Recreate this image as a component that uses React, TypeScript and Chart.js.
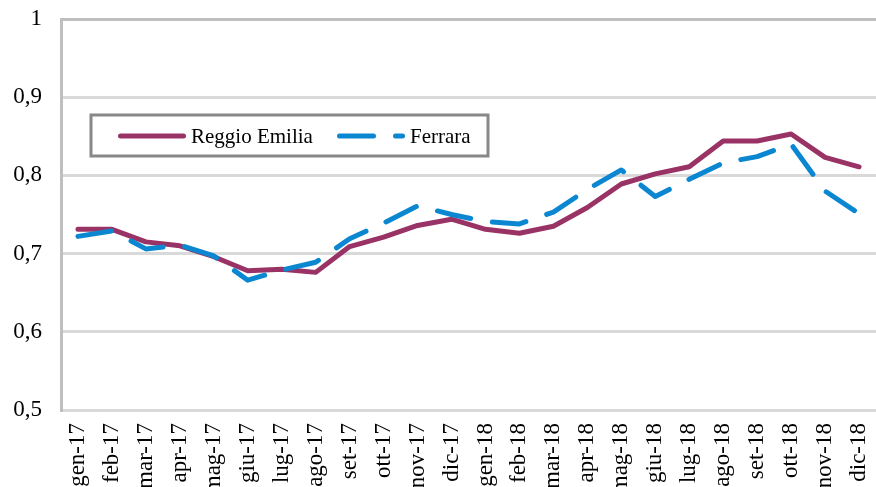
import React, { useEffect, useRef } from "react";
import { Chart, registerables } from "chart.js";

Chart.register(...registerables);

const categories = [
  "gen-17", "feb-17", "mar-17", "apr-17", "mag-17", "giu-17", "lug-17", "ago-17",
  "set-17", "ott-17", "nov-17", "dic-17", "gen-18", "feb-18", "mar-18", "apr-18",
  "mag-18", "giu-18", "lug-18", "ago-18", "set-18", "ott-18", "nov-18", "dic-18",
];

const reggioEmilia = [
  0.731, 0.731, 0.715, 0.710, 0.696, 0.678, 0.680, 0.676,
  0.709, 0.721, 0.736, 0.744, 0.731, 0.726, 0.735, 0.759,
  0.789, 0.802, 0.811, 0.844, 0.844, 0.853, 0.823, 0.811,
];

const ferrara = [
  0.722, 0.729, 0.706, 0.711, 0.697, 0.666, 0.679, 0.689,
  0.719, 0.739, 0.761, 0.750, 0.741, 0.738, 0.753, 0.782,
  0.807, 0.773, 0.795, 0.816, 0.824, 0.840, 0.780, 0.751,
];

const yTickValues = [0.5, 0.6, 0.7, 0.8, 0.9, 1];
const yTickLabels = ["0,5", "0,6", "0,7", "0,8", "0,9", "1"];

const seriesNames = ["Reggio Emilia", "Ferrara"];
const PURPLE = "#993366";
const BLUE = "#0A87D0";
const DASH = [34, 22];
const FONT = '"Liberation Serif", "Times New Roman", serif';

const legendPlugin = {
  id: "insetLegend",
  afterDraw(chart: any) {
    const ctx = chart.ctx;
    ctx.save();
    ctx.fillStyle = "#ffffff";
    ctx.strokeStyle = "#888888";
    ctx.lineWidth = 3;
    ctx.fillRect(91, 115, 397, 41);
    ctx.strokeRect(91, 115, 397, 41);
    const cy = 136;
    ctx.lineCap = "round";
    ctx.lineWidth = 5;
    ctx.strokeStyle = PURPLE;
    ctx.setLineDash([]);
    ctx.beginPath();
    ctx.moveTo(120.5, cy);
    ctx.lineTo(183.5, cy);
    ctx.stroke();
    ctx.strokeStyle = BLUE;
    ctx.setLineDash(DASH);
    ctx.beginPath();
    ctx.moveTo(339.5, cy);
    ctx.lineTo(402.5, cy);
    ctx.stroke();
    ctx.setLineDash([]);
    ctx.fillStyle = "#000000";
    ctx.font = `21px ${FONT}`;
    ctx.textBaseline = "middle";
    ctx.textAlign = "left";
    ctx.fillText(seriesNames[0], 191, cy + 1);
    ctx.fillText(seriesNames[1], 410, cy + 1);
    ctx.restore();
  },
};

function zeroPadding(scale: any) {
  scale.paddingTop = 0;
  scale.paddingBottom = 0;
  scale.paddingLeft = 0;
  scale.paddingRight = 0;
}

export default function App() {
  const ref = useRef<HTMLCanvasElement | null>(null);

  useEffect(() => {
    if (!ref.current) return;
    const chart = new Chart(ref.current, {
      type: "line",
      data: {
        labels: categories,
        datasets: [
          {
            label: seriesNames[0],
            data: reggioEmilia,
            borderColor: PURPLE,
            backgroundColor: PURPLE,
            borderWidth: 5,
            pointRadius: 0,
            tension: 0,
            borderJoinStyle: "round",
            borderCapStyle: "round",
            order: 1,
          },
          {
            label: seriesNames[1],
            data: ferrara,
            borderColor: BLUE,
            backgroundColor: BLUE,
            borderWidth: 5,
            pointRadius: 0,
            tension: 0,
            borderDash: DASH,
            borderJoinStyle: "round",
            borderCapStyle: "round",
            order: 0,
          },
        ],
      },
      options: {
        responsive: false,
        animation: false,
        layout: { padding: { top: 19, left: 0, right: -5, bottom: 0 } },
        plugins: {
          legend: { display: false },
          tooltip: { enabled: false },
        },
        scales: {
          x: {
            offset: true,
            grid: { display: false, drawTicks: false },
            border: { display: false },
            ticks: {
              autoSkip: false,
              minRotation: 90,
              maxRotation: 90,
              padding: 13,
              color: "#000000",
              font: { family: FONT, size: 23 },
            },
            afterFit(scale: any) {
              scale.height = 77;
              zeroPadding(scale);
            },
          },
          y: {
            min: 0.5,
            max: 1,
            afterBuildTicks(scale: any) {
              scale.ticks = yTickValues.map((v) => ({ value: v }));
            },
            grid: {
              drawTicks: false,
              lineWidth: 3,
              color: (c: any) => (c.tick && c.tick.value === 1 ? "#bfbfbf" : "#d9d9d9"),
            },
            border: { display: true, color: "#bfbfbf", width: 3 },
            ticks: {
              padding: 19,
              color: "#000000",
              font: { family: FONT, size: 23 },
              callback: (v: any) => {
                const i = yTickValues.findIndex((t) => Math.abs(t - Number(v)) < 1e-6);
                return i >= 0 ? yTickLabels[i] : "";
              },
            },
            afterFit(scale: any) {
              scale.width = 61;
              zeroPadding(scale);
            },
          },
        },
      },
      plugins: [legendPlugin],
    });
    return () => chart.destroy();
  }, []);

  return (
    <canvas
      ref={ref}
      width={876}
      height={487}
      style={{ position: "absolute", left: 0, top: 0, display: "block", background: "#ffffff" }}
    />
  );
}
